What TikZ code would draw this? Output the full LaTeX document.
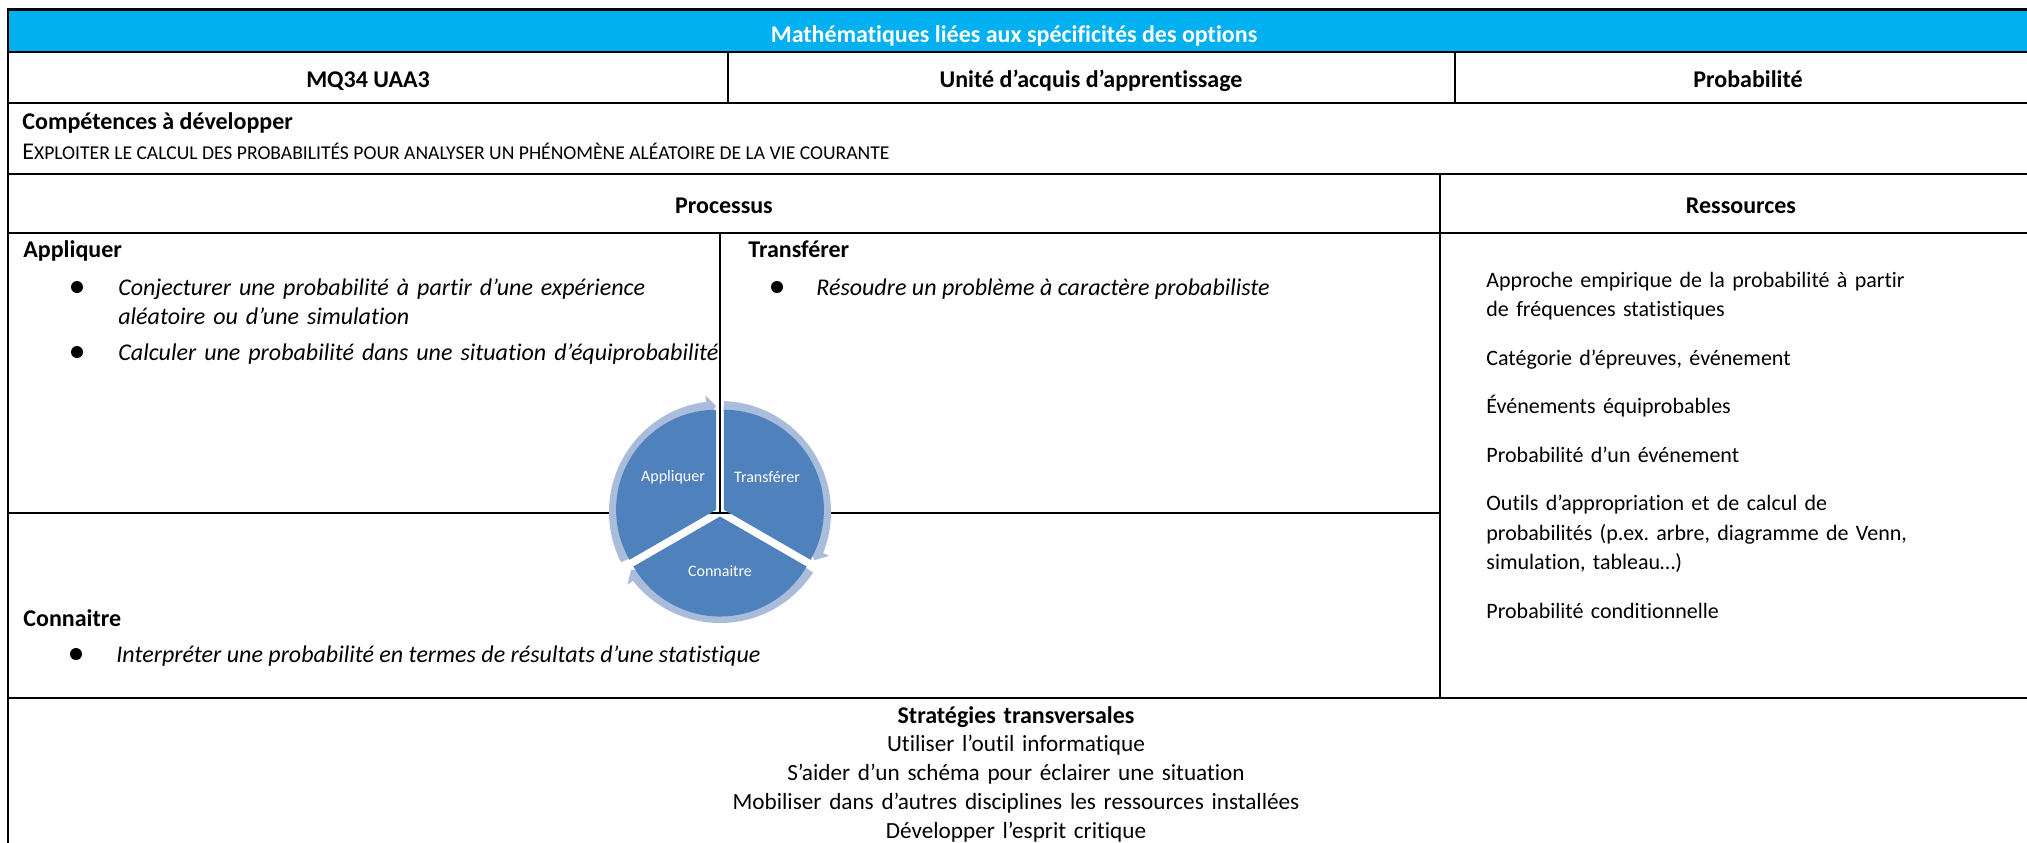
\documentclass[tikz,border=0pt]{standalone}
\usepackage{fontspec}
\setmainfont{Carlito}[Ligatures=NoCommon]
\usetikzlibrary{arrows.meta}
\usetikzlibrary{bending}
\usetikzlibrary{positioning}

\definecolor{headblue}{HTML}{00B0F0}
\definecolor{segblue}{HTML}{4F81BD}
\definecolor{ringblue}{HTML}{A9BCDC}

\newcommand{\petitcap}{\fontsize{9.8}{12}\selectfont}
\frenchspacing

\tikzset{
  grid/.style={line width=1.2pt},
  txt/.style={anchor=base west, inner sep=0pt, font=\fontsize{12}{14.75}\selectfont},
  hd/.style={txt, font=\fontsize{12}{14.75}\selectfont\bfseries},
  itm/.style={txt, font=\fontsize{12}{14.5}\selectfont\itshape},
  dot/.style={circle, fill=black, inner sep=0pt, minimum size=6pt},
  ring/.style={ringblue, line width=5pt, -{Triangle[width=11.5pt, length=5pt]}},
  seglabel/.style={white, inner sep=0pt, font=\fontsize{8}{9}\selectfont}
}

\begin{document}
\begin{tikzpicture}[x=0.5pt, y=-0.5pt]
  \useasboundingbox (0,0) rectangle (2027,842);
  \clip (0,0) rectangle (2027,842);

%%%%%%%%%%%% Header band
  \fill[headblue] (8,9.5) rectangle (2041,52);
  \draw[grid] (8,513) -- (1440,513);

%%%%%%%%%%%% Cycle
  \begin{scope}[shift={(720,512)}, yscale=-1]
    \draw[ring] (207:106) arc[start angle=207, end angle=92, radius=106];
    \draw[ring] (88:106) arc[start angle=88, end angle=-27, radius=106];
    \draw[ring] (-33:106) arc[start angle=-33, end angle=-147, radius=106];
    \fill[segblue, shift={(150:4.5)}] (0,0) -- (90:100) arc[start angle=90, end angle=210, radius=100] -- cycle;
    \fill[segblue, shift={(30:4.5)}] (0,0) -- (-30:100) arc[start angle=-30, end angle=90, radius=100] -- cycle;
    \fill[segblue, shift={(270:4.5)}] (0,0) -- (210:100) arc[start angle=210, end angle=330, radius=100] -- cycle;
    \node[seglabel] (cappl) at (-47,35) {Appliquer};
    \node[seglabel] (ctransf) at (47,35) {Transférer};
    \node[seglabel] (cconn) at (0,-59) {Connaitre};
  \end{scope}

%%%%%%%%%%%% Table rules
  \draw[grid] (720,233) -- (720,513);
  \draw[grid] (8,9.5) rectangle (2041,880);
  \foreach \y in {52,103,174,233,698} {
    \draw[grid] (8,\y) -- (2041,\y);
  }
  \draw[grid] (728,52) -- (728,103);
  \draw[grid] (1455,52) -- (1455,103);
  \draw[grid] (1440,174) -- (1440,698);

%%%%%%%%%%%% Texts
  \node[hd, anchor=base, white] (title) at (1014,42) {Mathématiques liées aux spécificités des options};
  \node[hd, anchor=base] (code) at (368,87) {MQ34 UAA3};
  \node[hd, anchor=base] (unite) at (1091,87) {Unité d’acquis d’apprentissage};
  \node[hd, anchor=base] (theme) at (1748,87) {Probabilité};

  \node[hd] (comp) at (22,129) {Compétences à développer};
  \node[txt] (compx) at (22,159) {{\fontsize{12}{14}\selectfont E}{\petitcap XPLOITER LE CALCUL DES PROBABILITÉS POUR ANALYSER UN PHÉNOMÈNE ALÉATOIRE DE LA VIE COURANTE}};

  \node[hd, anchor=base] (proc) at (724,213) {Processus};
  \node[hd, anchor=base] (ress) at (1741,213) {Ressources};

  \node[hd] (appl) at (23,257) {Appliquer};
  \node[dot] (appl1) at (77,287) {};
  \node[dot] (appl2) at (77,352) {};
  \node[itm, text width=320pt, align=left] (applx) at (118,295) {Conjecturer une probabilité à partir d’une expérience\\ aléatoire ou d’une simulation\\[3.5pt] Calculer une probabilité dans une situation d’équiprobabilité};

  \node[hd] (transf) at (748,257) {Transférer};
  \node[dot] (transf1) at (777,287) {};
  \node[itm] (transfx) at (816,295) {Résoudre un problème à caractère probabiliste};

  \node[hd] (conn) at (23,626) {Connaitre};
  \node[dot] (conn1) at (76,654) {};
  \node[itm] (connx) at (116,662) {Interpréter une probabilité en termes de résultats d’une statistique};

  \node[txt, text width=270pt, align=left, font=\fontsize{11}{14.75}\selectfont] (ressx) at (1486,287) {Approche empirique de la probabilité à partir\\ de fréquences statistiques\\[9.5pt] Catégorie d’épreuves, événement\\[9.5pt] Événements équiprobables\\[9.5pt] Probabilité d’un événement\\[9.5pt] Outils d’appropriation et de calcul de\\ probabilités (p.ex. arbre, diagramme de Venn,\\ simulation, tableau…)\\[9.5pt] Probabilité conditionnelle};

  \node[txt, anchor=base, text width=600pt, align=center, font=\fontsize{11.6}{14.4}\selectfont] (strat) at (1016,723) {{\fontsize{12}{14.4}\selectfont\bfseries Stratégies transversales}\\ Utiliser l’outil informatique\\ S’aider d’un schéma pour éclairer une situation\\ Mobiliser dans d’autres disciplines les ressources installées\\ Développer l’esprit critique};
\end{tikzpicture}
\end{document}
